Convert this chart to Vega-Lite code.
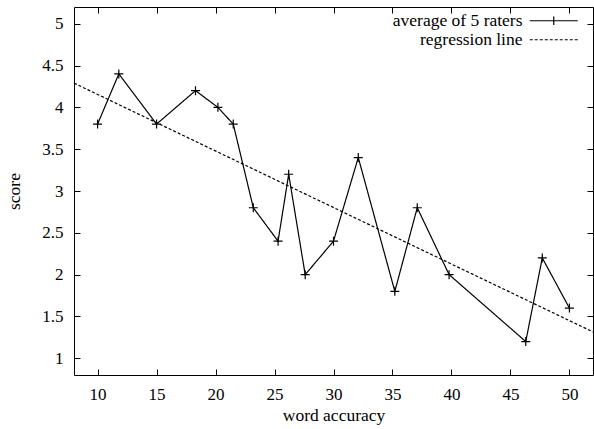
{
  "$schema": "https://vega.github.io/schema/vega-lite/v6.json",
  "width": 519,
  "height": 368,
  "autosize": "none",
  "padding": {"left": 74, "top": 7, "right": 1, "bottom": 54},
  "background": "white",
  "config": {
    "view": {"stroke": "black", "strokeWidth": 1},
    "font": "Liberation Serif",
    "axis": {
      "labelFont": "Liberation Serif", "labelFontSize": 17, "labelColor": "black",
      "titleFont": "Liberation Serif", "titleFontSize": 17.5, "titleFontWeight": "normal", "titleColor": "black",
      "tickColor": "black", "tickWidth": 1, "tickSize": -6, "domain": false, "grid": false
    }
  },
  "data": {
    "values": [
      {"accuracy": 10, "score": 3.8, "series": "average of 5 raters"},
      {"accuracy": 11.8, "score": 4.4, "series": "average of 5 raters"},
      {"accuracy": 15, "score": 3.8, "series": "average of 5 raters"},
      {"accuracy": 18.3, "score": 4.2, "series": "average of 5 raters"},
      {"accuracy": 20.2, "score": 4.0, "series": "average of 5 raters"},
      {"accuracy": 21.5, "score": 3.8, "series": "average of 5 raters"},
      {"accuracy": 23.2, "score": 2.8, "series": "average of 5 raters"},
      {"accuracy": 25.3, "score": 2.4, "series": "average of 5 raters"},
      {"accuracy": 26.2, "score": 3.2, "series": "average of 5 raters"},
      {"accuracy": 27.6, "score": 2.0, "series": "average of 5 raters"},
      {"accuracy": 30, "score": 2.4, "series": "average of 5 raters"},
      {"accuracy": 32.1, "score": 3.4, "series": "average of 5 raters"},
      {"accuracy": 35.2, "score": 1.8, "series": "average of 5 raters"},
      {"accuracy": 37.1, "score": 2.8, "series": "average of 5 raters"},
      {"accuracy": 39.8, "score": 2.0, "series": "average of 5 raters"},
      {"accuracy": 46.3, "score": 1.2, "series": "average of 5 raters"},
      {"accuracy": 47.7, "score": 2.2, "series": "average of 5 raters"},
      {"accuracy": 50, "score": 1.6, "series": "average of 5 raters"},
      {"accuracy": 8, "score": 4.29, "series": "regression line"},
      {"accuracy": 52, "score": 1.315, "series": "regression line"}
    ]
  },
  "resolve": {"axis": {"x": "independent", "y": "independent"}},
  "layer": [
    {
      "mark": {"type": "line", "color": "black", "strokeWidth": 1.2},
      "encoding": {
        "x": {
          "field": "accuracy", "type": "quantitative",
          "scale": {"domain": [8, 52], "nice": false, "zero": false},
          "axis": {"values": [10, 15, 20, 25, 30, 35, 40, 45, 50], "title": "word accuracy", "labelPadding": 17, "titlePadding": 4}
        },
        "y": {
          "field": "score", "type": "quantitative",
          "scale": {"domain": [0.8, 5.2], "nice": false, "zero": false},
          "axis": {"values": [1, 1.5, 2, 2.5, 3, 3.5, 4, 4.5, 5], "format": "~g", "title": "score", "labelPadding": 17, "titlePadding": 18}
        },
        "strokeDash": {
          "field": "series", "type": "nominal",
          "scale": {"domain": ["average of 5 raters", "regression line"], "range": [[1, 0], [3, 2]]},
          "legend": {
            "title": null,
            "orient": "none",
            "legendX": 471,
            "legendY": 5,
            "padding": 0,
            "rowPadding": 0,
            "symbolSize": 144,
            "symbolStrokeColor": "black",
            "symbolStrokeWidth": 1.2,
            "symbolFillColor": "transparent",
            "labelFont": "Liberation Serif",
            "labelFontSize": 17.5,
            "labelColor": "black",
            "labelAlign": "right",
            "labelOffset": -40,
            "labelLimit": 300,
            "encode": {
              "symbols": {
                "update": {
                  "shape": {"signal": "datum.value === 'regression line' ? 'M-4,0H4' : 'M-4,0H4M0,-0.7V0.7'"}
                }
              }
            }
          }
        }
      }
    },
    {
      "transform": [{"filter": "datum.series === 'average of 5 raters'"}],
      "mark": {"type": "point", "shape": "M-1,0H1M0,-1V1", "size": 81, "filled": false, "stroke": "black", "strokeWidth": 1.2, "opacity": 1},
      "encoding": {
        "x": {"field": "accuracy", "type": "quantitative", "axis": null},
        "y": {"field": "score", "type": "quantitative", "axis": null}
      }
    },
    {
      "transform": [{"filter": "datum.series === 'regression line'"}],
      "mark": {"type": "point", "opacity": 0},
      "encoding": {
        "x": {"field": "accuracy", "type": "quantitative", "axis": {"orient": "top", "values": [10, 15, 20, 25, 30, 35, 40, 45, 50], "labels": false, "title": null}},
        "y": {"field": "score", "type": "quantitative", "axis": {"orient": "right", "values": [1, 1.5, 2, 2.5, 3, 3.5, 4, 4.5, 5], "labels": false, "title": null}}
      }
    }
  ]
}
